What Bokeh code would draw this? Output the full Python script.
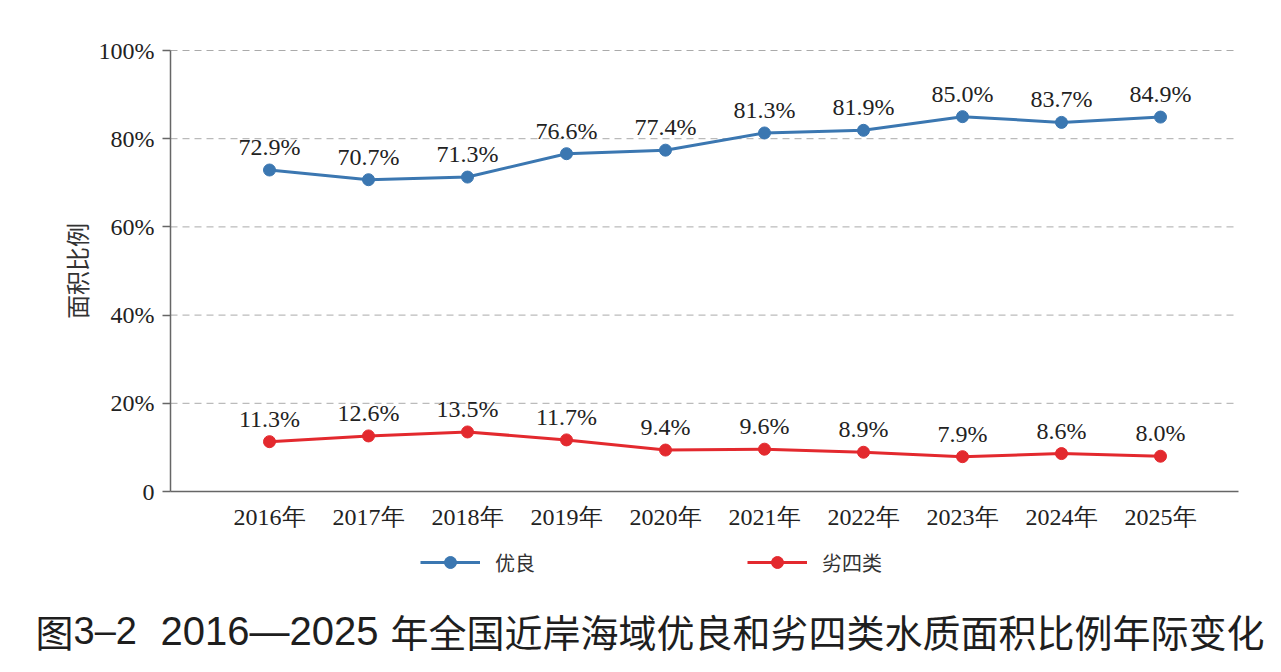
from bokeh.plotting import figure
from bokeh.models import Range1d, FixedTicker, Legend, LegendItem, Label, ColumnDataSource
from bokeh.core.properties import value
from bokeh.embed import file_html
from bokeh.resources import INLINE

years = [2016, 2017, 2018, 2019, 2020, 2021, 2022, 2023, 2024, 2025]
year_labels = ["2016年", "2017年", "2018年", "2019年", "2020年", "2021年", "2022年", "2023年", "2024年", "2025年"]
good = [72.9, 70.7, 71.3, 76.6, 77.4, 81.3, 81.9, 85.0, 83.7, 84.9]
bad = [11.3, 12.6, 13.5, 11.7, 9.4, 9.6, 8.9, 7.9, 8.6, 8.0]
y_ticks = [0, 20, 40, 60, 80, 100]
y_tick_labels = ["0", "20%", "40%", "60%", "80%", "100%"]
series_names = ["优良", "劣四类"]
# caption pieces: (text, font, size)
title_parts = [("图", "Noto Sans CJK SC", "38px"), ("3–2", "Liberation Sans", "38px"),
               ("2016—2025", "Liberation Sans", "40px"),
               ("年全国近岸海域优良和劣四类水质面积比例年际变化", "Noto Sans CJK SC", "38px")]

BLUE = "#3b77b1"
RED = "#e3292e"
SERIF = "Liberation Serif"
CJK = "Noto Sans CJK SC"

W, H = 1281, 672
# pixel layout of the plotting area (measured on the reference)
AX_LEFT, AX_RIGHT, AX_ZERO = 170, 1238, 491
PX_PER_PCT = 4.41
PX_PER_YEAR = 99.0
X0 = 2015.0

def px_x(px):
    return X0 + (px - AX_LEFT) / PX_PER_YEAR

def px_y(py):
    return (AX_ZERO - py) / PX_PER_PCT

x_axis_end = px_x(AX_RIGHT)

p = figure(width=W, height=H, output_backend="svg", toolbar_location=None,
           x_range=Range1d(px_x(0), px_x(W)), y_range=Range1d(px_y(H), px_y(0)),
           min_border=0, min_border_left=0, min_border_right=0,
           min_border_top=0, min_border_bottom=0)
p.title.visible = False
p.outline_line_color = None

# dashed horizontal grid lines at the y ticks
grid_y = y_ticks[1:]
p.segment(x0=[X0] * len(grid_y), x1=[x_axis_end] * len(grid_y), y0=grid_y, y1=grid_y,
          line_color="#aaaaaa", line_width=1, line_dash="7 5")

src_g = ColumnDataSource(dict(x=years, y=good, t=[f"{v:.1f}%" for v in good]))
src_b = ColumnDataSource(dict(x=years, y=bad, t=[f"{v:.1f}%" for v in bad]))

lg = p.line("x", "y", source=src_g, line_color=BLUE, line_width=3)
sg = p.scatter("x", "y", source=src_g, size=12, fill_color=BLUE, line_color=BLUE)
lb = p.line("x", "y", source=src_b, line_color=RED, line_width=3)
sb = p.scatter("x", "y", source=src_b, size=12, fill_color=RED, line_color=RED)

for s in (src_g, src_b):
    p.text("x", "y", text="t", source=s, text_font=value(SERIF), text_font_size="24px",
           text_color="#222222", text_align="center", text_baseline="middle", y_offset=-23)

# axes fixed at the data origin
p.xaxis.fixed_location = 0
p.xaxis.bounds = (X0, x_axis_end)
p.xaxis.ticker = FixedTicker(ticks=years)
p.xaxis.major_label_overrides = {y: l for y, l in zip(years, year_labels)}
p.xaxis.major_tick_out = 0
p.xaxis.major_tick_in = 0
p.xaxis.minor_tick_line_color = None
p.xaxis.major_label_standoff = 12

p.yaxis.fixed_location = X0
p.yaxis.bounds = (0, 100)
p.yaxis.ticker = FixedTicker(ticks=y_ticks)
p.yaxis.major_label_overrides = {t: l for t, l in zip(y_ticks, y_tick_labels)}
p.yaxis.major_tick_out = 8
p.yaxis.major_tick_in = 0
p.yaxis.minor_tick_line_color = None
p.yaxis.major_label_standoff = 8
p.yaxis.axis_label = "面积比例"
p.yaxis.axis_label_text_font = CJK
p.yaxis.axis_label_text_font_style = "normal"
p.yaxis.axis_label_text_font_size = "24px"
p.yaxis.axis_label_text_color = "#333333"
p.yaxis.axis_label_standoff = 2
for ax in (p.xaxis, p.yaxis):
    ax.axis_line_color = "#666666"
    ax.axis_line_width = 1.5
    ax.major_tick_line_width = 1.5
    ax.major_label_text_font = SERIF
    ax.major_label_text_font_size = "24px"
    ax.major_label_text_color = "#222222"
p.xaxis.major_tick_line_color = None
p.yaxis.major_tick_line_color = "#666666"
p.grid.visible = False

legend = Legend(items=[LegendItem(label=series_names[0], renderers=[lg, sg]),
                       LegendItem(label=series_names[1], renderers=[lb, sb])],
                orientation="horizontal", location=(420, 95),
                glyph_width=60, glyph_height=30, label_standoff=15, spacing=212,
                padding=0, margin=0, border_line_color=None, background_fill_alpha=0,
                label_text_font=CJK, label_text_font_size="20px", label_text_color="#333333")
p.add_layout(legend, "center")

title_x = [35, 73, 160, 390]
for (part, font, size), px in zip(title_parts, title_x):
    p.add_layout(Label(x=px_x(px), y=px_y(630), text=part, text_font=font,
                       text_font_size=size, text_font_style="normal", text_color="#1e1e1e",
                       text_baseline="middle", text_align="left"))

open("out.html", "w").write(file_html(p, INLINE))
